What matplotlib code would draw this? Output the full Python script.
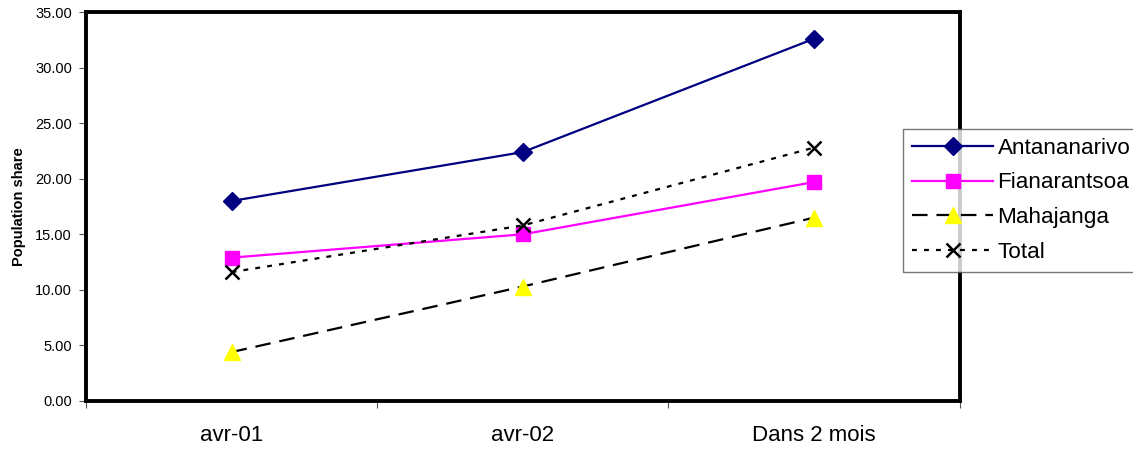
import matplotlib.pyplot as plt

plt.rcParams['font.family'] = ['Liberation Sans', 'DejaVu Sans']

# Data
categories = ['avr-01', 'avr-02', 'Dans 2 mois']
antananarivo = [18.0, 22.4, 32.6]
fianarantsoa = [12.9, 15.0, 19.7]
mahajanga = [4.4, 10.3, 16.5]
total = [11.6, 15.8, 22.8]

x = list(range(len(categories)))

fig = plt.figure(figsize=(11.33, 4.49), dpi=100)
ax = fig.add_axes([0.0759, 0.107, 0.771, 0.866])

ax.plot(x, antananarivo, color='#000080', lw=1.6, marker='D', ms=9,
        mfc='#000080', mec='#000080', label='Antananarivo', zorder=3)
ax.plot(x, fianarantsoa, color='#FF00FF', lw=1.6, marker='s', ms=10,
        mfc='#FF00FF', mec='#FF00FF', label='Fianarantsoa', zorder=3)
ax.plot(x, mahajanga, color='black', lw=1.6, dashes=(7, 4), marker='^', ms=11,
        mfc='#FFFF00', mec='#FFFF00', label='Mahajanga', zorder=3)
ax.plot(x, total, color='black', lw=1.6, dashes=(2.2, 3.2), marker='x', ms=10,
        mew=1.8, mec='black', label='Total', zorder=4)

# Axes and ticks
ax.set_xlim(-0.5, 2.5)
ax.set_ylim(0, 35)
ax.set_yticks([0, 5, 10, 15, 20, 25, 30, 35])
ax.set_yticklabels(['%.2f' % v for v in ax.get_yticks()], fontsize=10.5)
ax.set_xticks(x)
ax.set_xticklabels(categories, fontsize=16)
ax.set_xticks([-0.5, 0.5, 1.5, 2.5], minor=True)
ax.tick_params(axis='x', which='major', length=0, pad=17)
ax.tick_params(axis='x', which='minor', length=5, width=0.8, color='#555555')
ax.tick_params(axis='y', length=5, width=0.8, color='#555555', pad=5)

for s in ax.spines.values():
    s.set_linewidth(2.8)
    s.set_color('black')

ax.set_ylabel('Population share', fontsize=10.5, fontweight='bold', labelpad=7)

leg = fig.legend(loc='upper left', bbox_to_anchor=(903 / 1133, 1 - 129 / 449),
                 fontsize=16.2, frameon=True, fancybox=False, edgecolor='#555555',
                 handlelength=3.6, handletextpad=0.2, labelspacing=0.6,
                 borderpad=0.4, borderaxespad=0)
leg.get_frame().set_linewidth(1.0)

fig.savefig('out.png', dpi=100)
